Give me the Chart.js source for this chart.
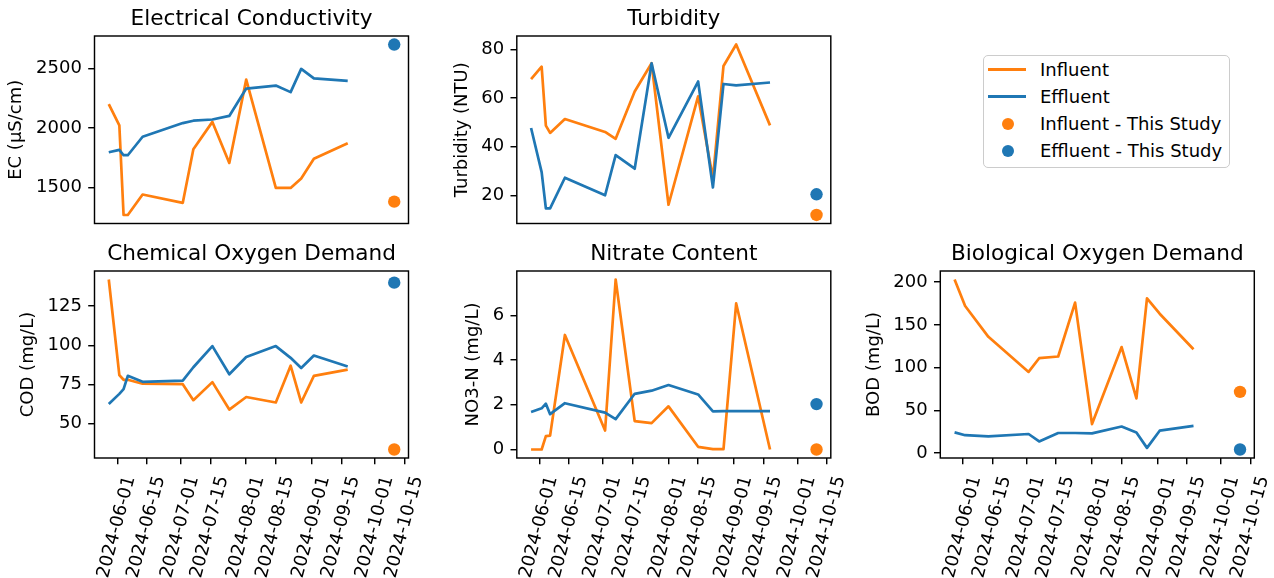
<!DOCTYPE html>
<html>
<head>
<meta charset="utf-8">
<script src="https://cdn.jsdelivr.net/npm/chart.js@4.4.1/dist/chart.umd.min.js"></script>
<style>
  html, body { margin:0; padding:0; background:#fff; width:1274px; height:578px; overflow:hidden; position:relative; font-family:'DejaVu Sans'; }
  canvas { position:absolute; }
  #legend { position:absolute; left:983px; top:55px; width:247px; height:113px; box-sizing:border-box;
            border:1.6px solid #cccccc; border-radius:5px; background:rgba(255,255,255,0.8); }
  .lrow { position:absolute; left:0; width:100%; height:0; }
  .lline { position:absolute; left:4px; width:38px; height:3px; top:-1.5px; }
  .ldot { position:absolute; left:17.5px; width:12px; height:12px; top:-6px; border-radius:50%; }
  .ltext { position:absolute; left:56px; top:-11px; line-height:22px; font-size:18px; color:#000; white-space:nowrap; font-family:'DejaVu Sans'; }
</style>
</head>
<body>
<div id="legend"></div>
<script>
// ---------------- data ----------------
const dates = ['2024-05-28','2024-06-02','2024-06-04','2024-06-06','2024-06-13','2024-07-02','2024-07-07',
               '2024-07-16','2024-07-24','2024-08-01','2024-08-15','2024-08-22','2024-08-27','2024-09-02','2024-09-18'];
const studyDate = '2024-10-10';
const xTickLabels = ['2024-06-01','2024-06-15','2024-07-01','2024-07-15','2024-08-01',
                     '2024-08-15','2024-09-01','2024-09-15','2024-10-01','2024-10-15'];

const ecInfluent  = [2200, 2020, 1268, 1268, 1440, 1370, 1820, 2050, 1705, 2405, 1495, 1495, 1575, 1740, 1870];
const ecEffluent  = [1795, 1815, 1770, 1770, 1925, 2040, 2060, 2070, 2100, 2330, 2355, 2300, 2495, 2415, 2395];
const ecStudy     = [1380, 2700];          // [influent, effluent]
const ecTicks     = [1500, 2000, 2500];

const turbInfluent = [67.8, 72.9, 48.7, 45.7, 51.4, 46.1, 43.3, 62.7, 74.3, 16.2, 60.7, 27, 73.2, 82.0, 48.8];
const turbEffluent = [47.7, 29.6, 14.7, 14.7, 27.3, 20.1, 36.6, 31.0, 74.3, 43.7, 66.8, 23.3, 65.8, 65.2, 66.4];
const turbStudy    = [12, 20.5];
const turbTicks    = [20, 40, 60, 80];

const codInfluent = [142, 81, 78, 78, 75.5, 75.2, 65, 76.5, 59, 67, 63.5, 87, 63.5, 80.5, 84.5];
const codEffluent = [62.5, 69, 72, 80.5, 76.7, 77.5, 86, 99.5, 81.5, 92.5, 99.5, 92, 85.5, 93.5, 86.5];
const codStudy    = [33.5, 140];
const codTicks    = [50, 75, 100, 125];

const no3Influent = [0, 0, 0.6, 0.62, 5.12, 0.85, 7.6, 1.27, 1.18, 1.93, 0.12, 0.02, 0.02, 6.53, 0];
const no3Effluent = [1.68, 1.84, 2.05, 1.58, 2.07, 1.65, 1.36, 2.49, 2.63, 2.88, 2.46, 1.7, 1.72, 1.72, 1.72];
const no3Study    = [0, 2.03];
const no3Ticks    = [0, 2, 4, 6];

const bodInfluent = [203, 172, null, null, 136, 95, 111, 113, 176, 34, 124, 64, 181, 163, 121.5];
const bodEffluent = [24.3, 21, null, null, 19.7, 22.4, 13.7, 23.6, 23.6, 23.1, 31.2, 24.3, 6.2, 26.3, 32];
const bodStudy    = [71.7, 4.3];
const bodTicks    = [0, 50, 100, 150, 200];

const seriesNames = ['Influent', 'Effluent', 'Influent - This Study', 'Effluent - This Study'];

// ---------------- helpers ----------------
const ORANGE = '#ff7f0e', BLUE = '#1f77b4';
const FONT = 'DejaVu Sans';
const TICK_FS = 18, TITLE_FS = 21.6;
const TICK_LEN = 6.3, TICK_PAD = 6.3, SPINE_W = 1.44, LINE_W = 2.7, DOT_R = 6.2;
const X_LABEL_OFF = 13, X_TICK_PAD = 9.5;

Chart.defaults.font.family = FONT;
Chart.defaults.color = '#000';

const ORIGIN = Date.UTC(2024, 5, 1);
const toDay = s => (Date.parse(s + 'T00:00:00Z') - ORIGIN) / 86400000;
const xs = dates.map(toDay);
const xStudy = toDay(studyDate);
const xLo = Math.min(...xs, xStudy), xHi = Math.max(...xs, xStudy);
const X_MIN = xLo - 0.05 * (xHi - xLo), X_MAX = xHi + 0.05 * (xHi - xLo);
const xTickValues = xTickLabels.map(toDay);

const panels = [
  {title:'Electrical Conductivity', ylabel:'EC (µS/cm)',      inf:ecInfluent,   eff:ecEffluent,   study:ecStudy,   yticks:ecTicks,   box:[94.5, 36, 408.5, 223.5],  labelOff:78, xaxis:false},
  {title:'Turbidity',               ylabel:'Turbidity (NTU)', inf:turbInfluent, eff:turbEffluent, study:turbStudy, yticks:turbTicks, box:[516.8, 36, 830.8, 223.5], labelOff:54, xaxis:false},
  {title:'Chemical Oxygen Demand',  ylabel:'COD (mg/L)',      inf:codInfluent,  eff:codEffluent,  study:codStudy,  yticks:codTicks,  box:[94.5, 271, 408.5, 458],   labelOff:66, xaxis:true},
  {title:'Nitrate Content',         ylabel:'NO3-N (mg/L)',    inf:no3Influent,  eff:no3Effluent,  study:no3Study,  yticks:no3Ticks,  box:[516.8, 271, 830.8, 458],  labelOff:43, xaxis:true},
  {title:'Biological Oxygen Demand',ylabel:'BOD (mg/L)',      inf:bodInfluent,  eff:bodEffluent,  study:bodStudy,  yticks:bodTicks,  box:[940.3, 271, 1254.3, 458], labelOff:66, xaxis:true}
];

const boxPlugin = {
  id: 'axbox',
  afterDatasetsDraw(chart) {
    const a = chart.chartArea, c = chart.ctx;
    c.save();
    c.strokeStyle = '#000'; c.lineWidth = SPINE_W;
    c.strokeRect(a.left, a.top, a.right - a.left, a.bottom - a.top);
    c.restore();
  }
};
const titlePlugin = {
  id: 'panelTitle',
  afterDraw(chart, args, opts) {
    const a = chart.chartArea, c = chart.ctx;
    c.save();
    c.font = TITLE_FS + 'px "' + FONT + '"';
    c.fillStyle = '#000'; c.textAlign = 'center'; c.textBaseline = 'alphabetic';
    c.fillText(opts.text, (a.left + a.right) / 2, a.top - 10.8);
    c.restore();
  }
};

function gridOpts() {
  return { drawOnChartArea:false, drawTicks:true, tickLength:TICK_LEN, color:'#000', lineWidth:SPINE_W, tickColor:'#000', tickWidth:SPINE_W };
}

panels.forEach(p => {
  const [l, t, r, b] = p.box;
  const cl = Math.floor(l - 90), ct = Math.floor(t - 36);
  const cr = Math.ceil(r + 34);
  const cb = p.xaxis ? 578 : Math.ceil(b + 20);
  const cw = cr - cl, ch = cb - ct;
  const Ly = l - cl, Ht = t - ct;
  const Hx = 578 - b;

  const cv = document.createElement('canvas');
  cv.width = cw; cv.height = ch;
  cv.style.left = cl + 'px'; cv.style.top = ct + 'px';
  cv.style.width = cw + 'px'; cv.style.height = ch + 'px';
  document.body.appendChild(cv);

  const all = [...p.inf, ...p.eff, ...p.study].filter(v => v !== null);
  const yLo = Math.min(...all), yHi = Math.max(...all);
  const yMin = yLo - 0.05 * (yHi - yLo), yMax = yHi + 0.05 * (yHi - yLo);

  const lineData = arr => xs.map((x, i) => ({x, y: arr[i]}));

  const xScale = {
    type: 'linear', min: X_MIN, max: X_MAX, display: p.xaxis,
    afterBuildTicks: s => { s.ticks = xTickValues.map(v => ({value: v})); },
    ticks: { autoSkip: false, maxRotation: 75, minRotation: 75, padding: X_TICK_PAD, labelOffset: X_LABEL_OFF,
             font: {size: TICK_FS}, color: '#000', callback: (v, i) => xTickLabels[i] },
    grid: gridOpts(), border: {display: false}
  };
  if (p.xaxis) xScale.afterFit = s => { s.height = Hx; };

  new Chart(cv.getContext('2d'), {
    type: 'line',
    data: {
      datasets: [
        {label: seriesNames[0], data: lineData(p.inf), borderColor: ORANGE, borderWidth: LINE_W, pointRadius: 0, tension: 0, fill: false, spanGaps: true, borderJoinStyle: 'round', order: 4},
        {label: seriesNames[1], data: lineData(p.eff), borderColor: BLUE, borderWidth: LINE_W, pointRadius: 0, tension: 0, fill: false, spanGaps: true, borderJoinStyle: 'round', order: 3},
        {label: seriesNames[2], data: [{x: xStudy, y: p.study[0]}], showLine: false, pointRadius: DOT_R, pointBackgroundColor: ORANGE, pointBorderWidth: 0, borderColor: ORANGE, order: 2},
        {label: seriesNames[3], data: [{x: xStudy, y: p.study[1]}], showLine: false, pointRadius: DOT_R, pointBackgroundColor: BLUE, pointBorderWidth: 0, borderColor: BLUE, order: 1}
      ]
    },
    options: {
      responsive: false, animation: false, events: [],
      layout: { autoPadding: false, padding: { left: 0, top: Ht, right: cr - r, bottom: p.xaxis ? 0 : cb - b } },
      plugins: { legend: {display: false}, tooltip: {enabled: false}, title: {display: false}, panelTitle: {text: p.title} },
      scales: {
        x: xScale,
        y: {
          type: 'linear', min: yMin, max: yMax,
          afterBuildTicks: s => { s.ticks = p.yticks.map(v => ({value: v})); },
          afterFit: s => { s.width = Ly; },
          ticks: { padding: TICK_PAD, font: {size: TICK_FS}, color: '#000', callback: v => String(v) },
          grid: gridOpts(), border: {display: false},
          title: { display: true, text: p.ylabel, font: {size: TICK_FS}, color: '#000',
                   padding: { top: Ly - p.labelOff - TICK_FS * 1.2 / 2, bottom: 0 } }
        }
      }
    },
    plugins: [boxPlugin, titlePlugin]
  });
});

// ---------------- legend (HTML) ----------------
const legend = document.getElementById('legend');
const rowCenters = [13.5, 40.5, 67.5, 95];
const kinds = [['line', ORANGE], ['line', BLUE], ['dot', ORANGE], ['dot', BLUE]];
seriesNames.forEach((name, i) => {
  const row = document.createElement('div');
  row.className = 'lrow'; row.style.top = rowCenters[i] + 'px';
  const h = document.createElement('div');
  h.className = kinds[i][0] === 'line' ? 'lline' : 'ldot';
  h.style.background = kinds[i][1];
  const tx = document.createElement('div');
  tx.className = 'ltext'; tx.textContent = name;
  row.appendChild(h); row.appendChild(tx);
  legend.appendChild(row);
});
</script>
</body>
</html>
